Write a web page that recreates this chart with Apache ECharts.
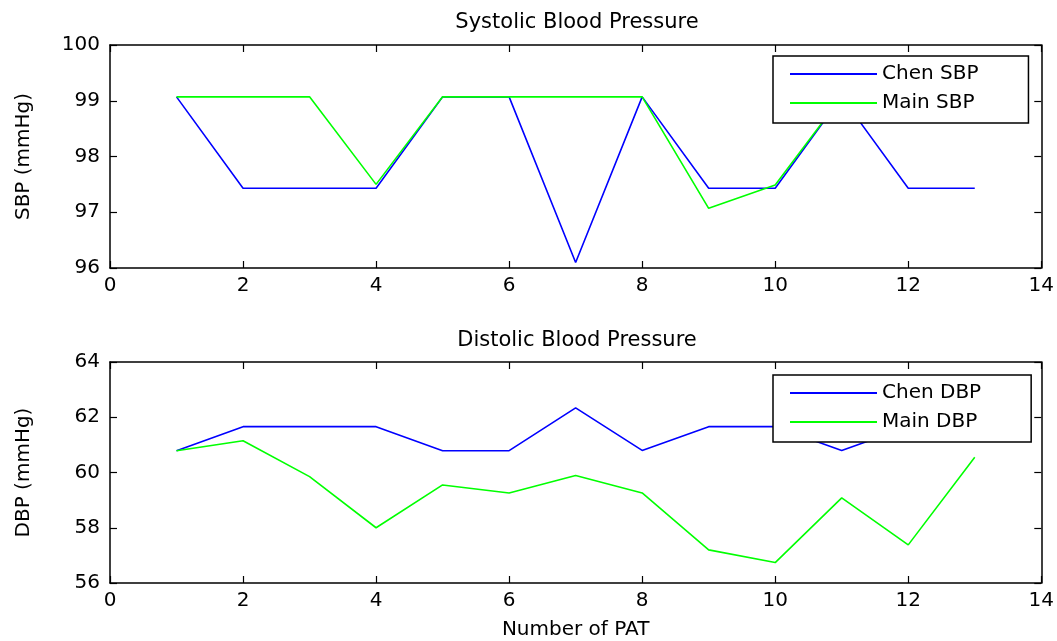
<!DOCTYPE html>
<html>
<head>
<meta charset="utf-8">
<script src="https://cdn.jsdelivr.net/npm/echarts@6/dist/echarts.min.js"></script>
<style>
  html, body { margin: 0; padding: 0; background: #fff; }
  #chart { width: 1057px; height: 641px; }
</style>
</head>
<body>
<div id="chart"></div>
<script>
// patient index (x axis)
const pat = [1, 2, 3, 4, 5, 6, 7, 8, 9, 10, 11, 12, 13]

// systolic blood pressure
const chenSBP = [99.07, 97.43, 97.43, 97.43, 99.07, 99.07, 96.1, 99.07, 97.43, 97.43, 99.07, 97.43, 97.43]
const mainSBP = [99.07, 99.07, 99.07, 97.5, 99.07, 99.07, 99.07, 99.07, 97.07, 97.49, 99.07, 99.07, 99.07]

// diastolic blood pressure
const chenDBP = [60.79, 61.66, 61.66, 61.66, 60.79, 60.79, 62.34, 60.8, 61.66, 61.66, 60.8, 61.66, 61.66]
const mainDBP = [60.79, 61.15, 59.85, 58.0, 59.55, 59.26, 59.89, 59.26, 57.2, 56.74, 59.08, 57.38, 60.55]

const FONT = 'DejaVu Sans'
const BLUE = '#0000ff'
const GREEN = '#00ff00'

function pairs(ys) {
  return pat.map((x, i) => [x, ys[i]])
}

function xAxes(gridIndex, withLabels) {
  const base = {
    type: 'value',
    gridIndex,
    min: 0,
    max: 14,
    interval: 2,
    splitLine: { show: false },
    axisLine: { show: true, onZero: false, lineStyle: { color: '#000', width: 1.5 } },
    axisTick: { show: true, inside: true, length: 7, lineStyle: { color: '#000', width: 1.2 } },
  }
  return [
    {
      ...base,
      position: 'bottom',
      axisLabel: { show: true, margin: 8, color: '#000', fontFamily: FONT, fontSize: 20 },
      name: withLabels ? 'Number of PAT' : '',
      nameLocation: 'middle',
      nameGap: 37,
      nameTextStyle: { color: '#000', fontFamily: FONT, fontSize: 20 },
    },
    { ...base, position: 'top', axisLabel: { show: false } },
  ]
}

function yAxes(gridIndex, min, max, interval, name) {
  const base = {
    type: 'value',
    gridIndex,
    min,
    max,
    interval,
    splitLine: { show: false },
    axisLine: { show: true, onZero: false, lineStyle: { color: '#000', width: 1.5 } },
    axisTick: { show: true, inside: true, length: 7, lineStyle: { color: '#000', width: 1.2 } },
  }
  return [
    {
      ...base,
      position: 'left',
      axisLabel: { show: true, margin: 10, color: '#000', fontFamily: FONT, fontSize: 20 },
      name,
      nameLocation: 'middle',
      nameGap: 76,
      nameTextStyle: { color: '#000', fontFamily: FONT, fontSize: 20 },
    },
    { ...base, position: 'right', axisLabel: { show: false } },
  ]
}

function legendFor(top, names) {
  return {
    data: names,
    orient: 'vertical',
    left: 773,
    top,
    icon: 'rect',
    itemWidth: 87,
    itemHeight: 2,
    itemGap: 9,
    padding: [8, 50, 10, 17],
    backgroundColor: '#fff',
    borderColor: '#000',
    borderWidth: 1.5,
    borderRadius: 0,
    textStyle: { color: '#000', fontFamily: FONT, fontSize: 20 },
  }
}

function lineSeries(name, ys, color, idx) {
  return {
    name,
    type: 'line',
    xAxisIndex: idx,
    yAxisIndex: idx,
    data: pairs(ys),
    symbol: 'none',
    smooth: false,
    lineStyle: { color, width: 1.6 },
    itemStyle: { color },
    animation: false,
  }
}

const myChart = echarts.init(document.getElementById('chart'))
myChart.setOption({
  backgroundColor: '#fff',
  animation: false,
  title: [
    {
      text: 'Systolic Blood Pressure',
      left: 572,
      top: 7,
      textAlign: 'center',
      textStyle: { color: '#000', fontFamily: FONT, fontSize: 21, fontWeight: 'normal' },
    },
    {
      text: 'Distolic Blood Pressure',
      left: 572,
      top: 325,
      textAlign: 'center',
      textStyle: { color: '#000', fontFamily: FONT, fontSize: 21, fontWeight: 'normal' },
    },
  ],
  legend: [
    legendFor(56, ['Chen SBP', 'Main SBP']),
    legendFor(375, ['Chen DBP', 'Main DBP']),
  ],
  grid: [
    { left: 110, right: 15, top: 45, height: 223 },
    { left: 110, right: 15, top: 362, height: 223 },
  ],
  xAxis: [...xAxes(0, false), ...xAxes(1, true)],
  yAxis: [
    ...yAxes(0, 96, 100, 1, 'SBP (mmHg)'),
    ...yAxes(1, 56, 64, 2, 'DBP (mmHg)'),
  ],
  series: [
    lineSeries('Chen SBP', chenSBP, BLUE, 0),
    lineSeries('Main SBP', mainSBP, GREEN, 0),
    lineSeries('Chen DBP', chenDBP, BLUE, 2),
    lineSeries('Main DBP', mainDBP, GREEN, 2),
  ],
})
</script>
</body>
</html>
